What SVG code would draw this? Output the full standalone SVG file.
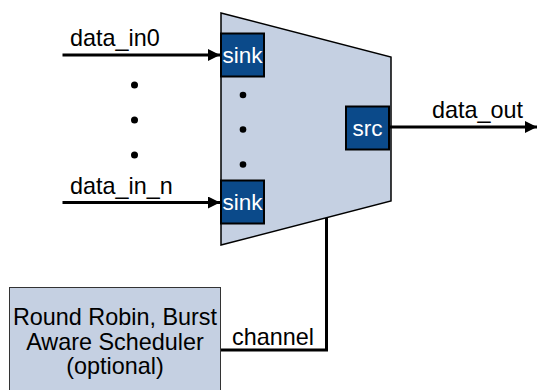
<svg xmlns="http://www.w3.org/2000/svg" width="537" height="390" viewBox="0 0 537 390">
<style>
text{font-family:"Liberation Sans",Arial,sans-serif;font-size:23.4px;fill:#000}
.port{fill:#0b4a8a;stroke:#000;stroke-width:2}
.port-t{fill:#fff;text-anchor:middle;font-size:22.5px}
.wire{fill:none;stroke:#000;stroke-width:3}
.dot{fill:#000}
</style>
<defs>
<marker id="arr" viewBox="0 0 10 10" refX="10" refY="5" markerWidth="5" markerHeight="4" markerUnits="strokeWidth" orient="auto">
<path d="M0,0 L10,5 L0,10 z" fill="#000"/>
</marker>
</defs>
<g id="mux">
<polygon points="221,13 391,57 391,201 221,245" fill="#c5d0e2" stroke="#000" stroke-width="1.5"/>
<circle class="dot" cx="243" cy="95" r="3.3"/>
<circle class="dot" cx="243" cy="129.5" r="3.3"/>
<circle class="dot" cx="243" cy="164.5" r="3.3"/>
</g>
<g id="sink0">
<rect class="port" x="221" y="33.5" width="43" height="43"/>
<text class="port-t" x="242.5" y="63">sink</text>
</g>
<g id="sinkn">
<rect class="port" x="221" y="180.5" width="43" height="43"/>
<text class="port-t" x="242.5" y="210">sink</text>
</g>
<g id="src">
<rect class="port" x="346" y="106.5" width="43" height="43"/>
<text class="port-t" x="367.5" y="136">src</text>
</g>
<g id="scheduler">
<rect x="9.5" y="287.5" width="211" height="110" fill="#c5d0e2" stroke="#333" stroke-width="1"/>
<text x="115" y="325" text-anchor="middle">Round Robin, Burst</text>
<text x="115" y="350" text-anchor="middle">Aware Scheduler</text>
<text x="115" y="374" text-anchor="middle">(optional)</text>
</g>
<g id="left-dots">
<circle class="dot" cx="134.5" cy="85" r="3.5"/>
<circle class="dot" cx="134.5" cy="120" r="3.5"/>
<circle class="dot" cx="134.5" cy="155" r="3.5"/>
</g>
<g id="connectors">
<line class="wire" x1="62.5" y1="55" x2="220" y2="55" marker-end="url(#arr)"/>
<line class="wire" x1="62.5" y1="202.5" x2="220" y2="202.5" marker-end="url(#arr)"/>
<line class="wire" x1="390" y1="127" x2="537" y2="127" marker-end="url(#arr)"/>
<polyline class="wire" points="221,350 326.5,350 326.5,218"/>
<text x="70" y="46">data_in0</text>
<text x="70" y="194">data_in_n</text>
<text x="432" y="117.5">data_out</text>
<text x="232" y="345">channel</text>
</g>
</svg>
